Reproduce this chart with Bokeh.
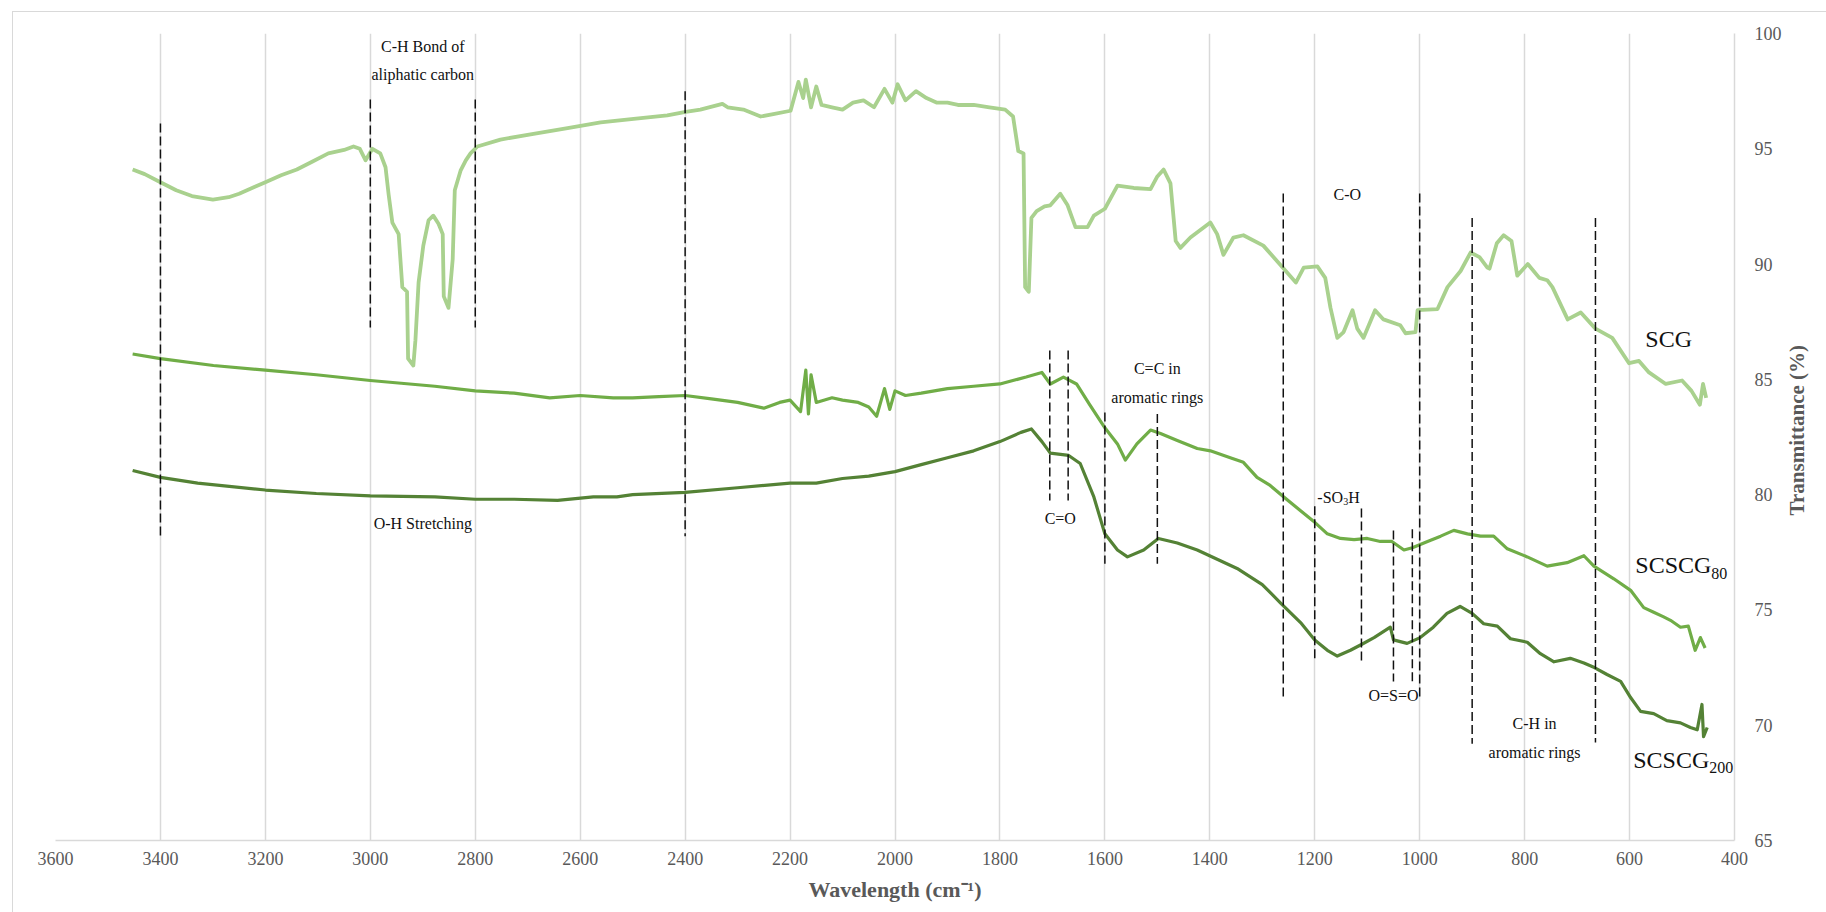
import math
from bokeh.plotting import figure
from bokeh.models import Range1d, FixedTicker, LinearAxis
from bokeh.core.properties import value
from bokeh.embed import file_html
from bokeh.resources import INLINE

# ---------------- data ----------------
scg_wn = [3453, 3430, 3400, 3370, 3340, 3300, 3270, 3250, 3220, 3200, 3170, 3140, 3110, 3080,
          3050, 3032, 3020, 3009, 2996, 2981, 2971, 2965, 2958, 2946, 2939, 2930, 2928, 2918,
          2914, 2908, 2899, 2889, 2880, 2870, 2862, 2860, 2851, 2843, 2839, 2828, 2818, 2809,
          2796, 2752, 2689, 2624, 2561, 2498, 2434, 2399, 2371, 2329, 2319, 2289, 2256, 2232,
          2199, 2184, 2175, 2170, 2160, 2150, 2140, 2120, 2100, 2080, 2060, 2040, 2020, 2005,
          1995, 1980, 1960, 1940, 1920, 1900, 1880, 1850, 1820, 1790, 1775, 1765, 1755, 1752,
          1745, 1740, 1730, 1715, 1704, 1685, 1671, 1656, 1633, 1621, 1600, 1576, 1545, 1513,
          1500, 1488, 1475, 1465, 1456, 1437, 1399, 1386, 1374, 1355, 1336, 1298, 1259, 1236,
          1221, 1195, 1180, 1170, 1157, 1145, 1128, 1119, 1107, 1085, 1069, 1037, 1027, 1008,
          1004, 966, 947, 922, 903, 886, 871, 867, 853, 840, 825, 814, 794, 772, 757, 747, 718,
          693, 665, 633, 601, 582, 563, 531, 500, 482, 466, 460, 454]
scg_t = [94.1, 93.9, 93.55, 93.2, 92.95, 92.8, 92.9, 93.05, 93.35, 93.55, 93.85, 94.1, 94.45, 94.8,
         94.95, 95.1, 95.0, 94.5, 95.0, 94.8, 94.2, 93.0, 91.8, 91.3, 89.0, 88.8, 85.9, 85.6,
         86.7, 89.2, 90.8, 91.9, 92.1, 91.75, 91.3, 88.6, 88.1, 90.2, 93.2, 94.05, 94.5, 94.8,
         95.1, 95.4, 95.65, 95.9, 96.15, 96.3, 96.45, 96.6, 96.7, 96.95, 96.8, 96.7, 96.4, 96.5,
         96.65, 97.9, 97.2, 98.0, 96.8, 97.7, 96.9, 96.8, 96.7, 97.0, 97.1, 96.8, 97.6, 97.0,
         97.8, 97.1, 97.5, 97.2, 97.0, 97.0, 96.9, 96.9, 96.8, 96.7, 96.4, 94.9, 94.8, 89.0,
         88.8, 92.0, 92.3, 92.5, 92.55, 93.05, 92.55, 91.6, 91.6, 92.1, 92.4, 93.4, 93.3, 93.25,
         93.8, 94.1, 93.5, 91.0, 90.7, 91.15, 91.8, 91.3, 90.4, 91.15, 91.25, 90.8, 89.8, 89.2,
         89.85, 89.9, 89.4, 88.1, 86.8, 87.05, 88.0, 87.2, 86.8, 88.0, 87.6, 87.35, 87.0, 87.05,
         88.0, 88.05, 89.0, 89.7, 90.5, 90.3, 89.85, 89.8, 90.9, 91.25, 91.0, 89.5, 90.0, 89.4,
         89.3, 89.0, 87.6, 87.9, 87.2, 86.8, 85.7, 85.8, 85.3, 84.8, 84.95, 84.5, 83.9, 84.8, 84.2]

s80_wn = [3453, 3400, 3299, 3200, 3103, 3000, 2877, 2800, 2726, 2658, 2600, 2537, 2500, 2450,
          2400, 2350, 2300, 2250, 2220, 2200, 2180, 2170, 2165, 2160, 2150, 2120, 2100, 2070,
          2050, 2035, 2020, 2010, 2000, 1980, 1950, 1900, 1850, 1800, 1750, 1720, 1704, 1679,
          1654, 1629, 1600, 1576, 1561, 1539, 1513, 1494, 1462, 1424, 1399, 1361, 1336, 1310,
          1285, 1259, 1227, 1200, 1176, 1151, 1125, 1100, 1075, 1053, 1030, 1014, 985, 960, 935,
          909, 884, 859, 833, 795, 757, 719, 687, 668, 630, 598, 573, 554, 535, 522, 503, 488,
          475, 465, 456]
s80_t = [86.1, 85.9, 85.6, 85.4, 85.2, 84.95, 84.7, 84.5, 84.4, 84.2, 84.3, 84.2, 84.2, 84.25,
         84.3, 84.15, 84.0, 83.75, 84.0, 84.1, 83.6, 85.4, 83.5, 85.2, 84.0, 84.2, 84.1, 84.0,
         83.8, 83.4, 84.6, 83.7, 84.5, 84.3, 84.4, 84.6, 84.7, 84.8, 85.1, 85.3, 84.8, 85.1,
         84.8, 83.9, 82.9, 82.2, 81.5, 82.2, 82.8, 82.65, 82.35, 82.0, 81.9, 81.6, 81.4, 80.75,
         80.4, 79.9, 79.3, 78.8, 78.3, 78.1, 78.05, 78.1, 77.97, 77.97, 77.6, 77.7, 77.97, 78.2, 78.45,
         78.3, 78.2, 78.2, 77.65, 77.3, 76.9, 77.05, 77.35, 76.9, 76.35, 75.85, 75.1, 74.9, 74.7, 74.55, 74.25, 74.3,
         73.25, 73.8, 73.35]

s200_wn = [3453, 3400, 3329, 3200, 3103, 3000, 2877, 2800, 2726, 2643, 2575, 2530, 2500, 2400,
           2300, 2200, 2150, 2100, 2050, 2000, 1950, 1900, 1850, 1800, 1760, 1740, 1720, 1704,
           1669, 1647, 1621, 1600, 1576, 1557, 1526, 1498, 1462, 1424, 1386, 1348, 1300, 1265,
           1227, 1200, 1176, 1157, 1132, 1111, 1087, 1056, 1050, 1024, 999, 974, 948, 923, 900,
           878, 852, 827, 795, 770, 744, 713, 687, 667, 643, 617, 598, 579, 554, 529, 503, 484,
           471, 462, 459, 452]
s200_t = [81.05, 80.75, 80.5, 80.2, 80.05, 79.95, 79.9, 79.8, 79.8, 79.75, 79.9, 79.9, 80.0, 80.1,
          80.3, 80.5, 80.5, 80.7, 80.8, 81.0, 81.3, 81.6, 81.9, 82.3, 82.7, 82.85, 82.3, 81.8,
          81.7, 81.35, 79.9, 78.3, 77.6, 77.3, 77.6, 78.1, 77.9, 77.6, 77.2, 76.8, 76.1, 75.3,
          74.45, 73.7, 73.25, 73.0, 73.25, 73.5, 73.8, 74.25, 73.7, 73.55, 73.8, 74.25, 74.85, 75.15, 74.85,
          74.4, 74.3, 73.75, 73.6, 73.1, 72.75, 72.9, 72.7, 72.5, 72.2, 71.9, 71.2, 70.6, 70.5, 70.2, 70.1, 69.9,
          69.8, 70.9, 69.5, 69.9]

x_ticks = [3600, 3400, 3200, 3000, 2800, 2600, 2400, 2200, 2000, 1800, 1600, 1400, 1200, 1000, 800, 600, 400]
y_ticks = [65, 70, 75, 80, 85, 90, 95, 100]
y_title = "Transmittance (%)"
y_title_anchor = 79.1          # where the rotated title starts (its lower end)
x_title = "Wavelength (cm\u207b\u00b9)"

# annotation dashed markers: wavenumber, top, bottom
mark_wn = [3400, 3000, 2800, 2400, 1705, 1670, 1600, 1500, 1260, 1200, 1111, 1050, 1014, 1000, 900, 665]
mark_top = [96.1, 97.14, 97.14, 97.5, 86.25, 86.25, 83.56, 83.5, 93.06, 79.5, 79.4, 78.45, 78.5, 93.06, 92.0, 92.0]
mark_bot = [78.2, 87.25, 87.25, 78.2, 79.75, 79.75, 77.0, 77.0, 71.1, 72.9, 72.8, 71.9, 71.8, 71.1, 69.2, 69.25]

ann_text = ["C-H Bond of", "aliphatic carbon", "O-H Stretching", "C=O", "C=C in", "aromatic rings",
            "C-O", "O=S=O", "C-H in", "aromatic rings"]
ann_x = [2900, 2900, 2900, 1685, 1500, 1500, 1138, 1050, 781, 781]
ann_y = [99.44, 98.22, 78.75, 78.97, 85.47, 84.21, 93.02, 71.29, 70.07, 68.82]

SERIF = "Liberation Serif"
C_SCG = "#A9D18E"
C_80 = "#70AD47"
C_200 = "#548235"
INK = "#111111"
GREY = "#595959"

p = figure(width=1826, height=912, x_range=Range1d(3600, 400), y_range=Range1d(65, 100),
           output_backend="svg", toolbar_location=None, y_axis_location="right",
           min_border_left=55, min_border_right=92, min_border_top=33, min_border_bottom=72)
p.outline_line_color = None
p.background_fill_color = "white"
p.border_fill_color = None
# light chart-area border (left and top edges) behind the transparent canvas margin
p.styles = {"box-shadow": "inset 12px 11px 0 0 #ffffff, inset 13px 12px 0 0 #d9d9d9",
            "background-color": "#ffffff"}

# grid
p.xgrid.ticker = FixedTicker(ticks=x_ticks)
p.xgrid.grid_line_color = "#d9d9d9"
p.xgrid.grid_line_width = 1.5
p.ygrid.grid_line_color = None

# axes
xa = p.xaxis[0]
xa.ticker = FixedTicker(ticks=x_ticks)
ya = p.yaxis[0]
ya.ticker = FixedTicker(ticks=y_ticks)
for ax in (xa, ya):
    ax.axis_line_color = "#d9d9d9"
    ax.axis_line_width = 1.5
    ax.major_tick_line_color = None
    ax.minor_tick_line_color = None
    ax.major_label_text_font = SERIF
    ax.major_label_text_font_size = "18px"
    ax.major_label_text_color = GREY
xa.axis_label = x_title
xa.axis_label_text_font = SERIF
xa.axis_label_text_font_style = "bold"
xa.axis_label_text_color = GREY
xa.axis_label_text_font_size = "22px"
xa.major_label_standoff = 5
xa.axis_label_standoff = 9
ya.major_label_standoff = 14

# right-hand title, reading bottom to top (a one-tick axis whose label is the title)
ta = LinearAxis(ticker=FixedTicker(ticks=[y_title_anchor]),
                major_label_overrides={y_title_anchor: y_title},
                major_label_orientation=math.pi / 2, axis_line_color=None,
                major_tick_line_color=None, minor_tick_line_color=None,
                major_label_text_font=SERIF, major_label_text_font_size="21px",
                major_label_text_font_style="bold", major_label_text_color=GREY,
                major_label_standoff=7)
p.add_layout(ta, "right")

# spectra
p.line(scg_wn, scg_t, line_color=C_SCG, line_width=3.8, line_join="round")
p.line(s80_wn, s80_t, line_color=C_80, line_width=3.2, line_join="round")
p.line(s200_wn, s200_t, line_color=C_200, line_width=3.2, line_join="round")

# dashed markers
p.segment(x0=mark_wn, y0=mark_top, x1=mark_wn, y1=mark_bot, line_color=INK,
          line_width=1.5, line_dash="9 4")

# annotation text
p.text(x=ann_x, y=ann_y, text=ann_text, text_font=value(SERIF), text_font_size="16px",
       text_align="center", text_baseline="middle", text_color=INK)
# -SO3H with subscript
p.text(x=[1195], y=[79.88], text=["-SO"], text_font=value(SERIF), text_font_size="16px",
       text_align="left", text_baseline="middle", text_color=INK)
p.text(x=[1195], y=[79.70], text=["3"], x_offset=26, text_font=value(SERIF), text_font_size="10px",
       text_align="left", text_baseline="middle", text_color=INK)
p.text(x=[1195], y=[79.88], text=["H"], x_offset=31, text_font=value(SERIF), text_font_size="16px",
       text_align="left", text_baseline="middle", text_color=INK)

# series labels
p.text(x=[570], y=[86.73], text=["SCG"], text_font=value(SERIF), text_font_size="24px",
       text_align="left", text_baseline="middle", text_color=INK)
p.text(x=[589, 593], y=[76.93, 68.51], text=["SCSCG", "SCSCG"], text_font=value(SERIF),
       text_font_size="24px", text_align="left", text_baseline="middle", text_color=INK)
p.text(x=[589, 593], y=[76.60, 68.18], text=["80", "200"], x_offset=76, text_font=value(SERIF),
       text_font_size="16px", text_align="left", text_baseline="middle", text_color=INK)

open("out.html", "w").write(file_html(p, INLINE))
